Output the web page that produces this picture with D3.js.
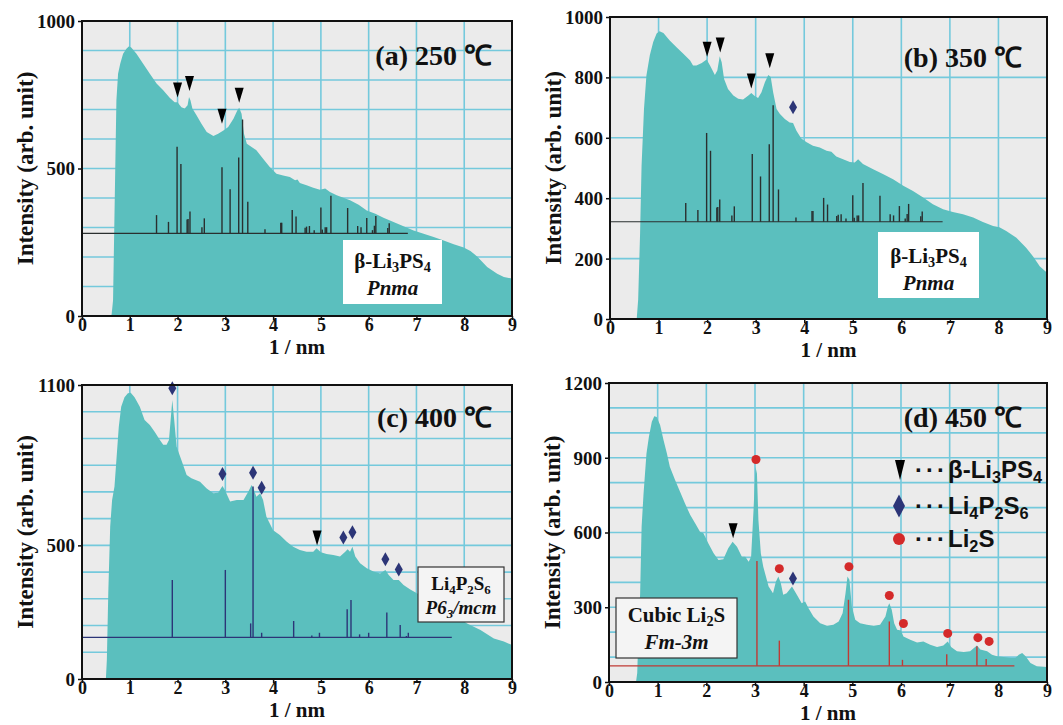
<!DOCTYPE html>
<html><head><meta charset="utf-8">
<script src="https://cdn.jsdelivr.net/npm/d3@7"></script>
<style>body{margin:0;background:#fff;} svg{display:block;}</style>
</head><body>
<svg id="chart" width="1063" height="725"></svg>
<script>
// ---------------- DATA ----------------
const xTicks = [0,1,2,3,4,5,6,7,8,9];
const yTicks250 = [0,500,1000];
const yTicks350 = [0,200,400,600,800,1000];
const yTicks400 = [0,500,1100];
const yTicks450 = [0,300,600,900,1200];

const spec250 = [[0,0],[0.6,0],[0.62,5],[0.65,53],[0.685,392],[0.72,731],[0.755,821],[0.8,855],[0.86,889],[0.93,906],[0.985,914],[1.03,910],[1.14,889],[1.28,855],[1.42,821],[1.56,788],[1.7,765],[1.84,739],[1.94,725],[2.0,725],[2.08,708],[2.15,703],[2.21,714],[2.24,742],[2.27,731],[2.31,703],[2.4,680],[2.5,652],[2.61,624],[2.75,610],[2.85,618],[2.96,629],[3.06,641],[3.17,669],[3.25,697],[3.29,706],[3.34,686],[3.39,618],[3.45,584],[3.55,573],[3.65,562],[3.79,533],[3.93,505],[4.07,482],[4.21,476],[4.35,471],[4.46,460],[4.51,463],[4.56,451],[4.7,443],[4.84,435],[4.98,428],[5.09,432],[5.19,420],[5.33,409],[5.47,401],[5.61,392],[5.79,377],[5.96,358],[6.14,347],[6.31,333],[6.52,319],[6.73,304],[6.94,290],[7.15,279],[7.36,268],[7.57,256],[7.78,243],[7.99,232],[8.13,220],[8.27,202],[8.48,166],[8.69,143],[8.83,132],[9.0,127]];

const spec350 = [[0,0],[0.55,0],[0.58,64],[0.62,286],[0.65,507],[0.7,695],[0.75,806],[0.82,873],[0.89,917],[0.96,945],[1.02,953],[1.1,947],[1.23,922],[1.37,900],[1.51,878],[1.65,856],[1.71,839],[1.78,839],[1.89,848],[1.99,859],[2.06,839],[2.16,808],[2.21,823],[2.26,870],[2.3,850],[2.35,795],[2.43,762],[2.54,740],[2.64,729],[2.74,727],[2.85,740],[2.91,748],[2.98,738],[3.05,732],[3.12,751],[3.19,784],[3.26,808],[3.31,801],[3.36,751],[3.43,695],[3.5,679],[3.6,662],[3.7,651],[3.77,649],[3.84,623],[3.94,598],[4.05,585],[4.18,574],[4.32,568],[4.46,557],[4.56,554],[4.66,538],[4.8,529],[4.94,520],[5.04,518],[5.11,529],[5.21,513],[5.42,496],[5.62,480],[5.83,463],[6.04,441],[6.24,424],[6.45,402],[6.65,380],[6.86,363],[7.06,354],[7.27,347],[7.48,336],[7.68,321],[7.89,308],[8.02,304],[8.16,291],[8.37,269],[8.57,236],[8.71,208],[8.85,175],[9.0,153]];

const spec400 = [[0,0],[0.5,0],[0.52,71],[0.55,321],[0.59,570],[0.63,670],[0.68,720],[0.72,819],[0.77,944],[0.82,1019],[0.89,1054],[0.96,1069],[1.02,1071],[1.1,1054],[1.21,1019],[1.31,969],[1.42,950],[1.52,925],[1.63,894],[1.7,876],[1.77,876],[1.82,894],[1.85,957],[1.89,1044],[1.93,969],[1.98,869],[2.08,819],[2.19,763],[2.29,751],[2.47,738],[2.61,713],[2.75,695],[2.85,697],[2.94,722],[2.99,707],[3.1,664],[3.24,670],[3.38,670],[3.48,701],[3.55,726],[3.6,707],[3.65,682],[3.73,695],[3.79,670],[3.86,607],[4.0,557],[4.14,539],[4.28,514],[4.42,495],[4.56,483],[4.7,476],[4.84,476],[4.91,489],[5.0,474],[5.12,468],[5.26,464],[5.4,458],[5.51,476],[5.56,485],[5.61,476],[5.66,495],[5.72,458],[5.82,433],[5.96,414],[6.1,402],[6.24,395],[6.35,408],[6.42,389],[6.52,370],[6.63,370],[6.73,352],[6.87,335],[7.01,321],[7.22,296],[7.5,271],[7.78,239],[8.06,208],[8.34,183],[8.62,152],[8.83,140],[9.0,127]];

const spec450 = [[0,0],[0.555,0],[0.58,36],[0.61,223],[0.64,356],[0.67,623],[0.71,757],[0.74,837],[0.77,917],[0.82,984],[0.88,1044],[0.93,1067],[0.98,1064],[1.05,1031],[1.12,971],[1.19,917],[1.25,864],[1.36,810],[1.46,764],[1.56,717],[1.67,670],[1.77,637],[1.87,603],[1.94,597],[2.04,557],[2.15,517],[2.25,490],[2.35,493],[2.45,537],[2.54,563],[2.63,543],[2.73,503],[2.8,503],[2.87,483],[2.92,503],[2.97,690],[3.01,864],[3.04,837],[3.07,650],[3.12,517],[3.17,463],[3.28,383],[3.37,356],[3.43,403],[3.48,423],[3.53,397],[3.58,350],[3.65,356],[3.76,383],[3.86,350],[3.96,316],[4.03,323],[4.1,296],[4.2,263],[4.34,236],[4.48,226],[4.61,230],[4.72,243],[4.8,276],[4.86,356],[4.9,423],[4.94,410],[4.99,303],[5.06,250],[5.16,236],[5.3,230],[5.44,226],[5.57,230],[5.68,263],[5.73,303],[5.76,316],[5.81,290],[5.86,236],[5.92,210],[6.0,207],[6.05,183],[6.19,170],[6.33,159],[6.46,163],[6.6,150],[6.74,140],[6.87,146],[6.96,163],[7.03,140],[7.15,123],[7.29,120],[7.42,123],[7.56,146],[7.63,130],[7.77,123],[7.87,109],[7.97,103],[8.11,100],[8.25,96],[8.35,96],[8.42,109],[8.49,116],[8.56,103],[8.66,76],[8.79,63],[9.0,60]];

// reference stick patterns: [position, height above baseline]
const stickLi3PS4 = [[1.56,62],[1.81,39],[1.99,294],[2.07,235],[2.20,47],[2.22,49],[2.26,74],[2.51,21],[2.56,51],[2.93,224],[3.10,150],[3.28,257],[3.36,386],[3.47,107],[3.83,14],[4.16,36],[4.18,36],[4.40,79],[4.48,57],[4.67,19],[4.70,23],[4.76,25],[4.86,11],[5.00,88],[5.03,13],[5.09,21],[5.12,21],[5.21,128],[5.56,86],[5.77,25],[5.84,21],[5.96,52],[6.08,11],[6.12,26],[6.15,59],[6.40,18],[6.43,34]];
const stickLi4P2S6 = [[1.89,214],[3.00,252],[3.53,52],[3.58,564],[3.76,17],[4.43,61],[4.81,7],[4.97,17],[5.55,105],[5.63,140],[5.81,11],[6.00,17],[6.38,93],[6.66,46],[6.79,5],[6.83,17]];
const stickLi2S = [[3.04,421],[3.50,101],[4.92,265],[5.76,178],[6.03,24],[6.94,46],[7.56,78],[7.75,27]];

// peak markers: [position, intensity]
const tri250 = [[2.00,766],[2.25,788],[2.93,677],[3.29,748]];
const tri350 = [[2.00,893],[2.27,907],[2.91,788],[3.29,855]];
const dia350 = [[3.77,701]];
const dia400 = [[1.89,1088],[2.94,767],[3.58,772],[3.76,716],[5.47,529],[5.66,549],[6.35,448],[6.63,410]];
const tri400 = [[4.92,528]];
const tri450 = [[2.55,607]];
const dia450 = [[3.78,415]];
const cir450 = [[3.02,893],[3.50,455],[4.93,463],[5.76,347],[6.05,235],[6.96,195],[7.58,178],[7.81,163]];

const panelTitles = ["(a) 250 ℃","(b) 350 ℃","(c) 400 ℃","(d) 450 ℃"];
const legendLabels = [[["β-Li",""],["3","s"],["PS",""],["4","s"]],[["Li",""],["4","s"],["P",""],["2","s"],["S",""],["6","s"]],[["Li",""],["2","s"],["S",""]]];

// ---------------- DRAW ----------------
const svg = d3.select("#chart");
const C = {bg:"#ebebeb", grid:"#74c9dc", fill:"#5bbfbe", navy:"#2c3577", red:"#d42a2a", stickRed:"#c03a35", stickDark:"#2a2f2f"};
const serif = "'Liberation Serif','Times New Roman',serif";
const sans = "'Liberation Sans Narrow','Liberation Sans',Arial,sans-serif";

const panels = [
 {box:{l:82,r:512,t:21,b:316}, ymax:1000, gridStep:100, yTicks:yTicks250, spec:spec250, sticks:stickLi3PS4, base:280, baseEnd:6.82, stickColor:C.stickDark, title:panelTitles[0], titleX:492, titleY:65,
  tris:tri250, dias:[], cirs:[], formula:{x:343,y:240,w:99,h:64,border:false,l1:[["β-Li",""],["3","s"],["PS",""],["4","s"]],l2:"Pnma",y1:268,y2:295,fs:21}},
 {box:{l:610,r:1047,t:17,b:319}, ymax:1000, gridStep:200, yTicks:yTicks350, spec:spec350, sticks:stickLi3PS4, base:322, baseEnd:6.85, stickColor:C.stickDark, title:panelTitles[1], titleX:1022, titleY:67,
  tris:tri350, dias:dia350, cirs:[], formula:{x:878,y:232,w:101,h:66,border:false,l1:[["β-Li",""],["3","s"],["PS",""],["4","s"]],l2:"Pnma",y1:263,y2:290,fs:21}},
 {box:{l:82,r:512,t:385,b:679}, ymax:1100, gridStep:100, yTicks:yTicks400, spec:spec400, sticks:stickLi4P2S6, base:156, baseEnd:7.74, stickColor:C.navy, title:panelTitles[2], titleX:492, titleY:427,
  tris:tri400, dias:dia400, cirs:[], formula:{x:418,y:567,w:86,h:55,border:true,l1:[["Li",""],["4","s"],["P",""],["2","s"],["S",""],["6","s"]],l2:[["P6",""],["3","s"],["/mcm",""]],y1:590,y2:614,fs:19}},
 {box:{l:609,r:1047,t:383,b:682}, ymax:1200, gridStep:100, yTicks:yTicks450, spec:spec450, sticks:stickLi2S, base:65, baseEnd:8.33, stickColor:C.stickRed, title:panelTitles[3], titleX:1022, titleY:427,
  tris:tri450, dias:dia450, cirs:cir450, formula:{x:616,y:598,w:121,h:60,border:true,l1:[["Cubic Li",""],["2","s"],["S",""]],l2:"Fm-3m",y1:622,y2:649,fs:21}}
];

function rich(textSel, parts, fs){
  parts.forEach(([t,k],i)=>{
    const ts = textSel.append("tspan").text(t);
    if(k==="s"){ ts.attr("font-size", fs*0.68).attr("dy", fs*0.2); }
    else if(i>0 && parts[i-1][1]==="s"){ ts.attr("dy", -fs*0.2); }
  });
}

function triPath(cx,cy,w,h){ return `M${cx-w/2},${cy-h/2}L${cx+w/2},${cy-h/2}L${cx},${cy+h/2}Z`; }
function diaPath(cx,cy,w,h){ return `M${cx},${cy-h/2}L${cx+w/2},${cy}L${cx},${cy+h/2}L${cx-w/2},${cy}Z`; }

panels.forEach((p,pi)=>{
  const b = p.box;
  const x = d3.scaleLinear().domain([0,9]).range([b.l,b.r]);
  const y = d3.scaleLinear().domain([0,p.ymax]).range([b.b,b.t]);
  const g = svg.append("g");
  const clipId = "clip"+pi;
  g.append("clipPath").attr("id",clipId).append("rect").attr("x",b.l).attr("y",b.t).attr("width",b.r-b.l).attr("height",b.b-b.t);

  g.append("rect").attr("x",b.l).attr("y",b.t).attr("width",b.r-b.l).attr("height",b.b-b.t).attr("fill",C.bg);
  // grid
  const gv = d3.range(1,9);
  g.selectAll(".gv").data(gv).enter().append("line").attr("x1",d=>x(d)).attr("x2",d=>x(d)).attr("y1",b.t).attr("y2",b.b).attr("stroke",C.grid).attr("stroke-width",1.6);
  const gh = d3.range(p.gridStep, p.ymax, p.gridStep);
  g.selectAll(".gh").data(gh).enter().append("line").attr("x1",b.l).attr("x2",b.r).attr("y1",d=>y(d)).attr("y2",d=>y(d)).attr("stroke",C.grid).attr("stroke-width",1.6);

  const pg = g.append("g").attr("clip-path",`url(#${clipId})`);
  const area = d3.area().x(d=>x(d[0])).y0(y(0)).y1(d=>y(d[1]));
  pg.append("path").datum(p.spec).attr("d",area).attr("fill",C.fill);

  // sticks
  pg.append("line").attr("x1",x(0)).attr("x2",x(p.baseEnd)).attr("y1",y(p.base)).attr("y2",y(p.base)).attr("stroke",p.stickColor).attr("stroke-width",1.2);
  pg.selectAll(".st").data(p.sticks).enter().append("line")
    .attr("x1",d=>x(d[0])).attr("x2",d=>x(d[0])).attr("y1",y(p.base)).attr("y2",d=>y(p.base+d[1]))
    .attr("stroke",p.stickColor).attr("stroke-width",1.4);

  // markers
  g.selectAll(".tri").data(p.tris).enter().append("path").attr("d",d=>triPath(x(d[0]),y(d[1]),9,15)).attr("fill","#000");
  g.selectAll(".dia").data(p.dias).enter().append("path").attr("d",d=>diaPath(x(d[0]),y(d[1]),8,14)).attr("fill",C.navy);
  g.selectAll(".cir").data(p.cirs).enter().append("circle").attr("cx",d=>x(d[0])).attr("cy",d=>y(d[1])).attr("r",4.5).attr("fill",C.red);

  // frame
  g.append("rect").attr("x",b.l).attr("y",b.t).attr("width",b.r-b.l).attr("height",b.b-b.t).attr("fill","none").attr("stroke","#111").attr("stroke-width",2);

  // axes
  const xa = g.append("g").attr("transform",`translate(0,${b.b})`).call(d3.axisBottom(x).tickValues(xTicks).tickSize(4).tickFormat(d3.format("d")));
  const ya = g.append("g").attr("transform",`translate(${b.l},0)`).call(d3.axisLeft(y).tickValues(p.yTicks).tickSize(4).tickFormat(d3.format("d")));
  [xa,ya].forEach(a=>{ a.select(".domain").remove(); a.selectAll("line").attr("stroke","#111").attr("stroke-width",1.5);
    a.selectAll("text").attr("font-family",serif).attr("font-weight","bold").attr("font-size",19).attr("fill","#111"); });
  xa.selectAll("text").attr("font-size",18).attr("y",1).attr("dy","0.76em");
  ya.selectAll("text").attr("x",-7).attr("dy","0.34em");

  // axis titles
  g.append("text").attr("x",(b.l+b.r)/2).attr("y",b.b+38).attr("text-anchor","middle").attr("font-family",serif).attr("font-weight","bold").attr("font-size",21).attr("fill","#111").text("1 / nm");
  const tx = b.l-57, ty = (b.t+b.b)/2;
  g.append("text").attr("transform",`translate(${tx},${ty}) rotate(-90)`).attr("text-anchor","middle").attr("dy","0.35em").attr("font-family",serif).attr("font-weight","bold").attr("font-size",23).attr("fill","#111").text("Intensity (arb. unit)");

  // panel title
  g.append("text").attr("x",p.titleX).attr("y",p.titleY).attr("text-anchor","end").attr("font-family",serif).attr("font-weight","bold").attr("font-size",28).attr("fill","#111").text(p.title);

  // formula box
  const f = p.formula;
  g.append("rect").attr("x",f.x).attr("y",f.y).attr("width",f.w).attr("height",f.h).attr("fill",f.border?"#f4f4f4":"#ffffff").attr("stroke",f.border?"#333":"none").attr("stroke-width",1.2);
  const t1 = g.append("text").attr("x",f.x+f.w/2).attr("y",f.y1).attr("text-anchor","middle").attr("font-family",serif).attr("font-weight","bold").attr("font-size",f.fs).attr("fill","#111");
  rich(t1,f.l1,f.fs);
  const t2 = g.append("text").attr("x",f.x+f.w/2).attr("y",f.y2).attr("text-anchor","middle").attr("font-family",serif).attr("font-weight","bold").attr("font-style","italic").attr("font-size",f.fs).attr("fill","#111");
  if(typeof f.l2==="string") t2.text(f.l2); else rich(t2,f.l2,f.fs);
});

// legend in panel (d)
const lg = svg.append("g");
const legY = [470, 506, 539];
lg.append("path").attr("d",triPath(900,legY[0],10,20)).attr("fill","#000");
lg.append("path").attr("d",diaPath(899,legY[1],12,23)).attr("fill",C.navy);
lg.append("circle").attr("cx",899).attr("cy",legY[2]).attr("r",6).attr("fill",C.red);
legendLabels.forEach((parts,i)=>{
  const t = lg.append("text").attr("x",915).attr("y",legY[i]+8).attr("font-family",sans).attr("font-weight","bold").attr("font-size",24).attr("fill","#111");
  t.append("tspan").text("···").attr("letter-spacing","3px");
  rich(t,parts,24);
});
</script>
</body></html>
